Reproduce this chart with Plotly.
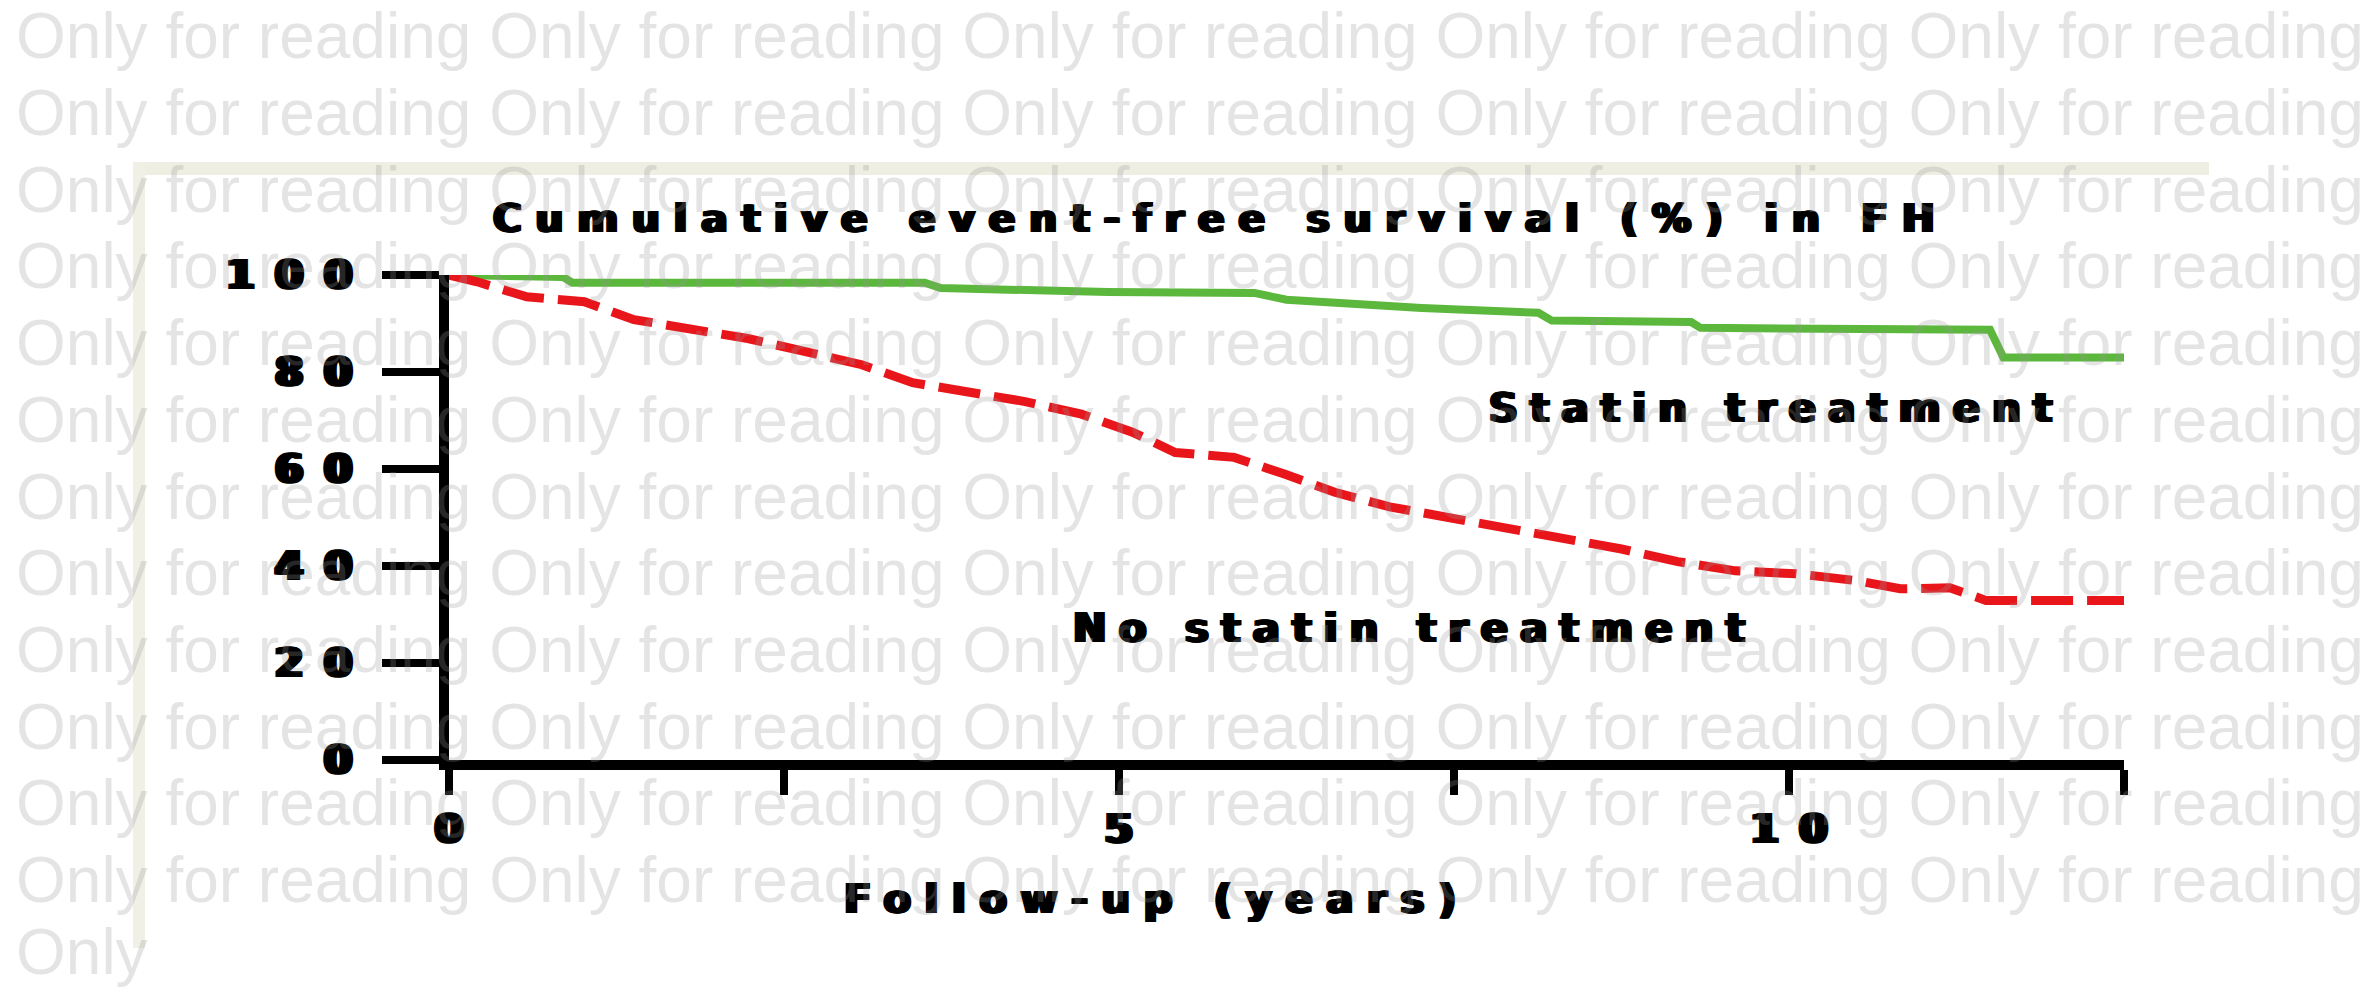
import plotly.graph_objects as go

# ---------------- data ----------------
statin_years = [0, 0.85, 0.92, 3.55, 3.67, 4.92, 6.01, 6.25, 7.26, 8.13, 8.23,
                9.27, 9.34, 11.5, 11.6, 12.5]
statin_survival = [100, 99.6, 98.4, 98.4, 97.3, 96.5, 96.3, 94.9, 93.2, 92.2, 90.6,
                   90.3, 89.1, 88.7, 83.0, 83.0]

no_statin_years = [0, 0.21, 0.58, 1.01, 1.38, 1.80, 2.23, 2.66, 3.08, 3.46, 3.88,
                   4.30, 4.72, 5.10, 5.42, 5.86, 6.24, 6.61, 7.02, 7.44, 7.87,
                   8.30, 8.75, 9.17, 9.60, 10.05, 10.50, 10.83, 11.2, 11.47, 12.5]
no_statin_survival = [100, 98.6, 95.5, 94.5, 90.8, 88.9, 86.9, 84.2, 81.5, 77.8, 75.8,
                      73.9, 71.3, 67.6, 63.4, 62.4, 58.9, 55.2, 52.2, 50.1, 47.6,
                      45.4, 43.5, 40.9, 39.0, 38.4, 37.0, 35.3, 35.5, 32.9, 32.9]

y_tick_values = [0, 20, 40, 60, 80, 100]
x_tick_values = [0, 2.5, 5, 7.5, 10, 12.5]
x_tick_labels = ["0", "", "5", "", "10", ""]

title_text = "Cumulative event-free survival (%) in FH"
x_title_text = "Follow-up (years)"
statin_label = "Statin treatment"
no_statin_label = "No statin treatment"
watermark_phrase = "Only for reading"

# ---------------- layout geometry ----------------
W, H = 2367, 991
L, R, T, B = 449, 243, 275, 231
PW = W - L - R
PH = H - T - B


def px_x(X):
    return (X - L) / PW


def px_y(Y):
    return (H - B - Y) / PH


def spaced(text, gap):
    """Wrap text so letters are spread apart (gap only between characters)."""
    if len(text) < 2 or gap == 0:
        return text
    return '<span style="letter-spacing:%gpx">%s</span>%s' % (gap, text[:-1], text[-1])


FONT = "DejaVu Sans"
GREEN = "#5cb83c"
RED = "#e8161b"
# horizontal "smear" to mimic the wide, heavy strokes of the stretched original
WIDE_TICK = "-3px 0 0 black, -1.5px 0 0 black, 1.5px 0 0 black, 3px 0 0 black"
WIDE_TEXT = "-2px 0 0 black, -1px 0 0 black, 1px 0 0 black, 2px 0 0 black"

fig = go.Figure()
fig.add_trace(go.Scatter(
    x=statin_years, y=statin_survival, mode="lines",
    line=dict(color=GREEN, width=8), cliponaxis=False, showlegend=False,
    name=statin_label))
fig.add_trace(go.Scatter(
    x=no_statin_years, y=no_statin_survival, mode="lines",
    line=dict(color=RED, width=9, dash="42px,14px"), cliponaxis=False,
    showlegend=False, name=no_statin_label))

tick_font = dict(family=FONT, size=40, color="black", weight="bold", shadow=WIDE_TICK)

fig.update_xaxes(
    range=[0, 12.5], showgrid=False, zeroline=False,
    showline=True, linewidth=10, linecolor="black",
    ticks="outside", ticklen=25, tickwidth=8, tickcolor="black",
    tickvals=x_tick_values,
    ticktext=[spaced(t, 21) for t in x_tick_labels],
    tickfont=tick_font,
)
fig.update_yaxes(
    range=[0, 100], showgrid=False, zeroline=False,
    showline=True, linewidth=10, linecolor="black",
    ticks="outside", ticklen=57, tickwidth=8, tickcolor="black",
    tickvals=y_tick_values,
    ticktext=[spaced(str(v), 21) for v in y_tick_values],
    tickfont=tick_font, ticklabelstandoff=22,
)

annotations = []


def add_text(text, cx, cy, size, gap):
    annotations.append(dict(
        text=spaced(text, gap), xref="paper", yref="paper",
        x=px_x(cx), y=px_y(cy), xanchor="center", yanchor="middle",
        showarrow=False,
        font=dict(family=FONT, size=size, color="black", weight="bold",
                  shadow=WIDE_TEXT)))


add_text(title_text, 1214, 218, 39, 14)
add_text(statin_label, 1770, 408, 40, 12.3)
add_text(no_statin_label, 1409, 628, 40, 12.4)
add_text(x_title_text, 1150, 899, 40, 13.7)

# watermark rows (drawn on top, semi-transparent)
wm_font = dict(family="Liberation Sans", size=64, color="rgba(150,150,150,0.26)")
row_text = " ".join([watermark_phrase] * 5)
for k in range(12):
    annotations.append(dict(
        text=row_text, xref="paper", yref="paper",
        x=px_x(14), y=px_y(36.3 + 76.7 * k), xanchor="left", yanchor="middle",
        showarrow=False, font=wm_font))
annotations.append(dict(
    text=watermark_phrase.split()[0], xref="paper", yref="paper",
    x=px_x(14), y=px_y(990), xanchor="left", yanchor="bottom",
    showarrow=False, font=wm_font))

shapes = [
    dict(type="rect", xref="paper", yref="paper", layer="below",
         x0=px_x(133), x1=px_x(2209), y0=px_y(175), y1=px_y(162),
         fillcolor="#eeeee3", line=dict(width=0)),
    dict(type="rect", xref="paper", yref="paper", layer="below",
         x0=px_x(133), x1=px_x(145), y0=px_y(948), y1=px_y(162),
         fillcolor="#f0f0e6", line=dict(width=0)),
]

fig.update_layout(
    width=W, height=H, autosize=False,
    margin=dict(l=L, r=R, t=T, b=B, pad=0),
    paper_bgcolor="white", plot_bgcolor="white",
    annotations=annotations, shapes=shapes,
    showlegend=False,
)

fig.write_html("out.html", config={"displayModeBar": False},
               post_script="document.body.style.margin='0';")
